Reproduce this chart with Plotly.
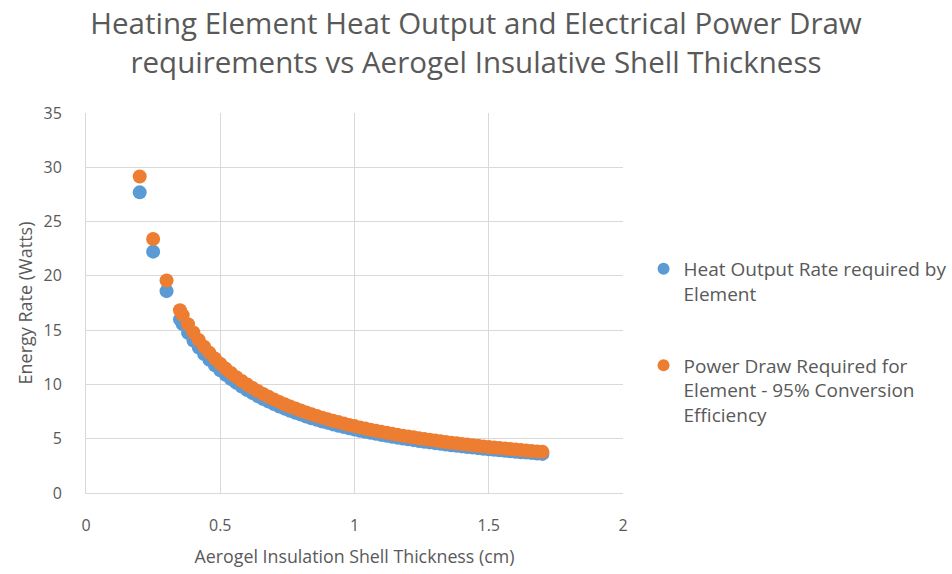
import plotly.graph_objects as go

thickness_cm = [0.20, 0.25, 0.30, 0.35, 0.36, 0.38, 0.40, 0.42, 0.44, 0.46, 0.48, 0.50,
                0.52, 0.54, 0.56, 0.58, 0.60, 0.62, 0.64, 0.66, 0.68, 0.70, 0.72, 0.74,
                0.76, 0.78, 0.80, 0.82, 0.84, 0.86, 0.88, 0.90, 0.92, 0.94, 0.96, 0.98,
                1.00, 1.02, 1.04, 1.06, 1.08, 1.10, 1.12, 1.14, 1.16, 1.18, 1.20, 1.22,
                1.24, 1.26, 1.28, 1.30, 1.32, 1.34, 1.36, 1.38, 1.40, 1.42, 1.44, 1.46,
                1.48, 1.50, 1.52, 1.54, 1.56, 1.58, 1.60, 1.62, 1.64, 1.66, 1.68, 1.70]

heat_output_w = [27.69, 22.23, 18.59, 15.99, 15.56, 14.76, 14.04, 13.39, 12.80, 12.26, 11.77, 11.31,
                 10.89, 10.50, 10.14, 9.80, 9.49, 9.20, 8.92, 8.66, 8.42, 8.19, 7.97, 7.77,
                 7.57, 7.39, 7.22, 7.05, 6.89, 6.74, 6.59, 6.46, 6.32, 6.20, 6.08, 5.96,
                 5.85, 5.74, 5.64, 5.54, 5.45, 5.35, 5.27, 5.18, 5.10, 5.02, 4.94, 4.87,
                 4.79, 4.72, 4.66, 4.59, 4.53, 4.46, 4.40, 4.35, 4.29, 4.24, 4.18, 4.13,
                 4.08, 4.03, 3.98, 3.94, 3.89, 3.85, 3.80, 3.76, 3.72, 3.68, 3.64, 3.60]

power_draw_w = [29.15, 23.40, 19.57, 16.83, 16.38, 15.54, 14.78, 14.09, 13.47, 12.91, 12.39, 11.91,
                11.46, 11.05, 10.67, 10.32, 9.99, 9.68, 9.39, 9.12, 8.86, 8.62, 8.39, 8.18,
                7.97, 7.78, 7.60, 7.42, 7.25, 7.09, 6.94, 6.80, 6.65, 6.53, 6.40, 6.27,
                6.16, 6.04, 5.94, 5.83, 5.74, 5.63, 5.55, 5.45, 5.37, 5.28, 5.20, 5.13,
                5.04, 4.97, 4.91, 4.83, 4.77, 4.69, 4.63, 4.58, 4.52, 4.46, 4.40, 4.35,
                4.29, 4.24, 4.19, 4.15, 4.09, 4.05, 4.00, 3.96, 3.92, 3.87, 3.83, 3.79]

x_ticks = [0, 0.5, 1, 1.5, 2]
x_tick_labels = ["0", "0.5", "1", "1.5", "2"]
y_ticks = [0, 5, 10, 15, 20, 25, 30, 35]

FONT = "Open Sans"
GRAY = "#595959"

fig = go.Figure()
fig.add_trace(go.Scatter(
    x=thickness_cm, y=heat_output_w, mode="markers",
    name="Heat Output Rate required by<br>Element",
    legendgroup="a",
    marker=dict(color="#5B9BD5", size=14, line=dict(width=0)),
))
fig.add_trace(go.Scatter(
    x=thickness_cm, y=power_draw_w, mode="markers",
    name="Power Draw Required for<br>Element - 95% Conversion<br>Efficiency",
    legendgroup="b",
    marker=dict(color="#ED7D31", size=14, line=dict(width=0)),
))

fig.update_layout(
    width=952, height=574,
    margin=dict(l=86, r=329, t=113, b=81, autoexpand=False),
    paper_bgcolor="white", plot_bgcolor="white",
    font=dict(family=FONT, color=GRAY, size=16),
    title=dict(
        text="Heating Element Heat Output and Electrical Power Draw<br>requirements vs Aerogel Insulative Shell Thickness",
        x=0.5, xanchor="center", y=0.94, yanchor="top",
        font=dict(family=FONT, size=29.5, color=GRAY),
    ),
    xaxis=dict(
        range=[0, 2], tickvals=x_ticks, ticktext=x_tick_labels,
        showgrid=True, gridcolor="#d9d9d9", gridwidth=1,
        zeroline=False, showline=True, linecolor="#d9d9d9", mirror=False,
        ticks="", tickfont=dict(size=16, color=GRAY), ticklabelstandoff=18,
        title=dict(text="Aerogel Insulation Shell Thickness (cm)", font=dict(size=17.8, color=GRAY), standoff=15),
    ),
    yaxis=dict(
        range=[0, 35], tickvals=y_ticks,
        showgrid=True, gridcolor="#d9d9d9", gridwidth=1,
        zeroline=False, showline=True, linecolor="#d9d9d9",
        ticks="", tickfont=dict(size=16, color=GRAY), ticklabelstandoff=20,
        title=dict(text="Energy Rate (Watts)", font=dict(size=18, color=GRAY), standoff=6),
    ),
    legend=dict(
        x=0.676, xanchor="left", y=0.5645, yanchor="top",
        xref="container", yref="container",
        font=dict(size=19, color=GRAY, family=FONT),
        tracegroupgap=44, valign="top", itemsizing="constant",
        bgcolor="rgba(0,0,0,0)",
    ),
)

fig.write_html("out.html")
